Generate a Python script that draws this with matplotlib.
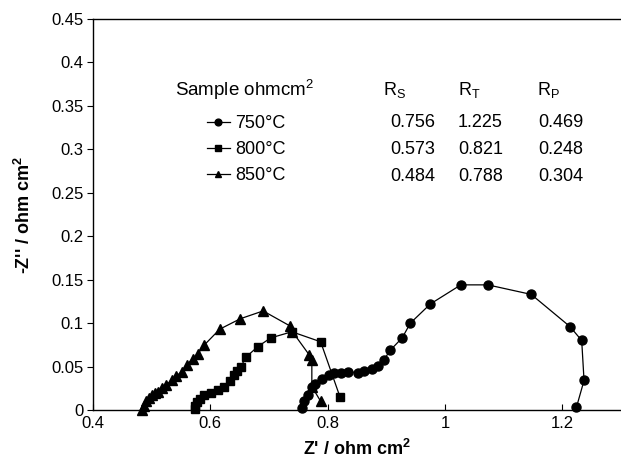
import matplotlib
matplotlib.use("Agg")
import matplotlib.pyplot as plt
from matplotlib.ticker import FuncFormatter

plt.rcParams['font.family'] = ['Liberation Sans', 'DejaVu Sans']
plt.rcParams['mathtext.default'] = 'regular'

# Nyquist data
z_re_750 = [0.757, 0.760, 0.766, 0.774, 0.779, 0.790, 0.803, 0.811, 0.822, 0.834,
            0.851, 0.862, 0.875, 0.885, 0.896, 0.907, 0.927, 0.941, 0.975, 1.027,
            1.073, 1.147, 1.213, 1.233, 1.237, 1.224]
z_im_750 = [0.002, 0.010, 0.017, 0.027, 0.030, 0.036, 0.040, 0.042, 0.043, 0.044,
            0.043, 0.0445, 0.047, 0.051, 0.058, 0.069, 0.083, 0.100, 0.122, 0.144,
            0.144, 0.133, 0.096, 0.080, 0.034, 0.003]

z_re_800 = [0.573, 0.574, 0.577, 0.582, 0.590, 0.601, 0.613, 0.624, 0.633, 0.640,
            0.646, 0.652, 0.661, 0.681, 0.703, 0.739, 0.788, 0.821]
z_im_800 = [0.001, 0.005, 0.009, 0.013, 0.017, 0.020, 0.023, 0.027, 0.033, 0.040,
            0.045, 0.050, 0.061, 0.073, 0.083, 0.090, 0.0785, 0.015]

z_re_850 = [0.484, 0.487, 0.491, 0.496, 0.500, 0.505, 0.510, 0.517, 0.525, 0.534,
            0.542, 0.551, 0.560, 0.570, 0.579, 0.590, 0.616, 0.651, 0.690, 0.735,
            0.740, 0.769, 0.773, 0.773, 0.788]
z_im_850 = [0.000, 0.005, 0.010, 0.014, 0.017, 0.019, 0.021, 0.025, 0.029, 0.034,
            0.039, 0.044, 0.052, 0.059, 0.065, 0.075, 0.093, 0.105, 0.114, 0.097,
            0.090, 0.063, 0.0575, 0.027, 0.010]

labels = ['750°C', '800°C', '850°C']
rs = ['0.756', '0.573', '0.484']
rt = ['1.225', '0.821', '0.788']
rp = ['0.469', '0.248', '0.304']

fig = plt.figure(figsize=(6.21, 4.63), dpi=100)
ax = fig.add_axes([0.1498, 0.1145, 0.8502, 0.8445])

lines = []
for x, y, m, ms, lab in [(z_re_750, z_im_750, 'o', 6.5, labels[0]),
                         (z_re_800, z_im_800, 's', 5.8, labels[1]),
                         (z_re_850, z_im_850, '^', 6.5, labels[2])]:
    ln, = ax.plot(x, y, color='black', lw=0.9, marker=m, ms=ms,
                  markeredgecolor='black', markerfacecolor='black', label=lab,
                  clip_on=False, zorder=3)
    lines.append(ln)

ax.set_xlim(0.4, 1.3)
ax.set_ylim(0, 0.45)
ax.set_xticks([0.4, 0.6, 0.8, 1.0, 1.2])
ax.set_yticks([0, 0.05, 0.1, 0.15, 0.2, 0.25, 0.3, 0.35, 0.4, 0.45])
ax.xaxis.set_major_formatter(FuncFormatter(lambda v, p: '%g' % round(v, 2)))
ax.yaxis.set_major_formatter(FuncFormatter(lambda v, p: '%g' % round(v, 2)))
ax.tick_params(axis='x', direction='in', length=4, width=0.8, labelsize=12, pad=4)
ax.tick_params(axis='y', direction='out', length=4, width=0.8, labelsize=12, pad=3)
ax.spines['right'].set_visible(False)
for s in ['left', 'bottom', 'top']:
    ax.spines[s].set_linewidth(1.0)

ax.set_xlabel("Z' / ohm cm$^2$", fontsize=13, fontweight='bold', labelpad=6)
ax.set_ylabel("-Z'' / ohm cm$^2$", fontsize=13, fontweight='bold', labelpad=12)

# table-style legend
ax.text(0.155, 0.818, 'Sample ohmcm$^2$', transform=ax.transAxes, fontsize=13.5, va='center')
ax.text(0.549, 0.818, 'R$_S$', transform=ax.transAxes, fontsize=13, va='center')
ax.text(0.691, 0.818, 'R$_T$', transform=ax.transAxes, fontsize=13, va='center')
ax.text(0.841, 0.818, 'R$_P$', transform=ax.transAxes, fontsize=13, va='center')
row_y = [0.734, 0.665, 0.596]
for i in range(3):
    ax.text(0.5625, row_y[i], rs[i], transform=ax.transAxes, fontsize=13, va='center')
    ax.text(0.691, row_y[i], rt[i], transform=ax.transAxes, fontsize=13, va='center')
    ax.text(0.843, row_y[i], rp[i], transform=ax.transAxes, fontsize=13, va='center')

leg = ax.legend(handles=lines, loc='center left', bbox_to_anchor=(0.215, 0.665),
                frameon=False, fontsize=13, borderpad=0, borderaxespad=0,
                labelspacing=0.5, handlelength=1.3, handletextpad=0.3,
                markerscale=0.75)

fig.savefig('out.png', dpi=100)
